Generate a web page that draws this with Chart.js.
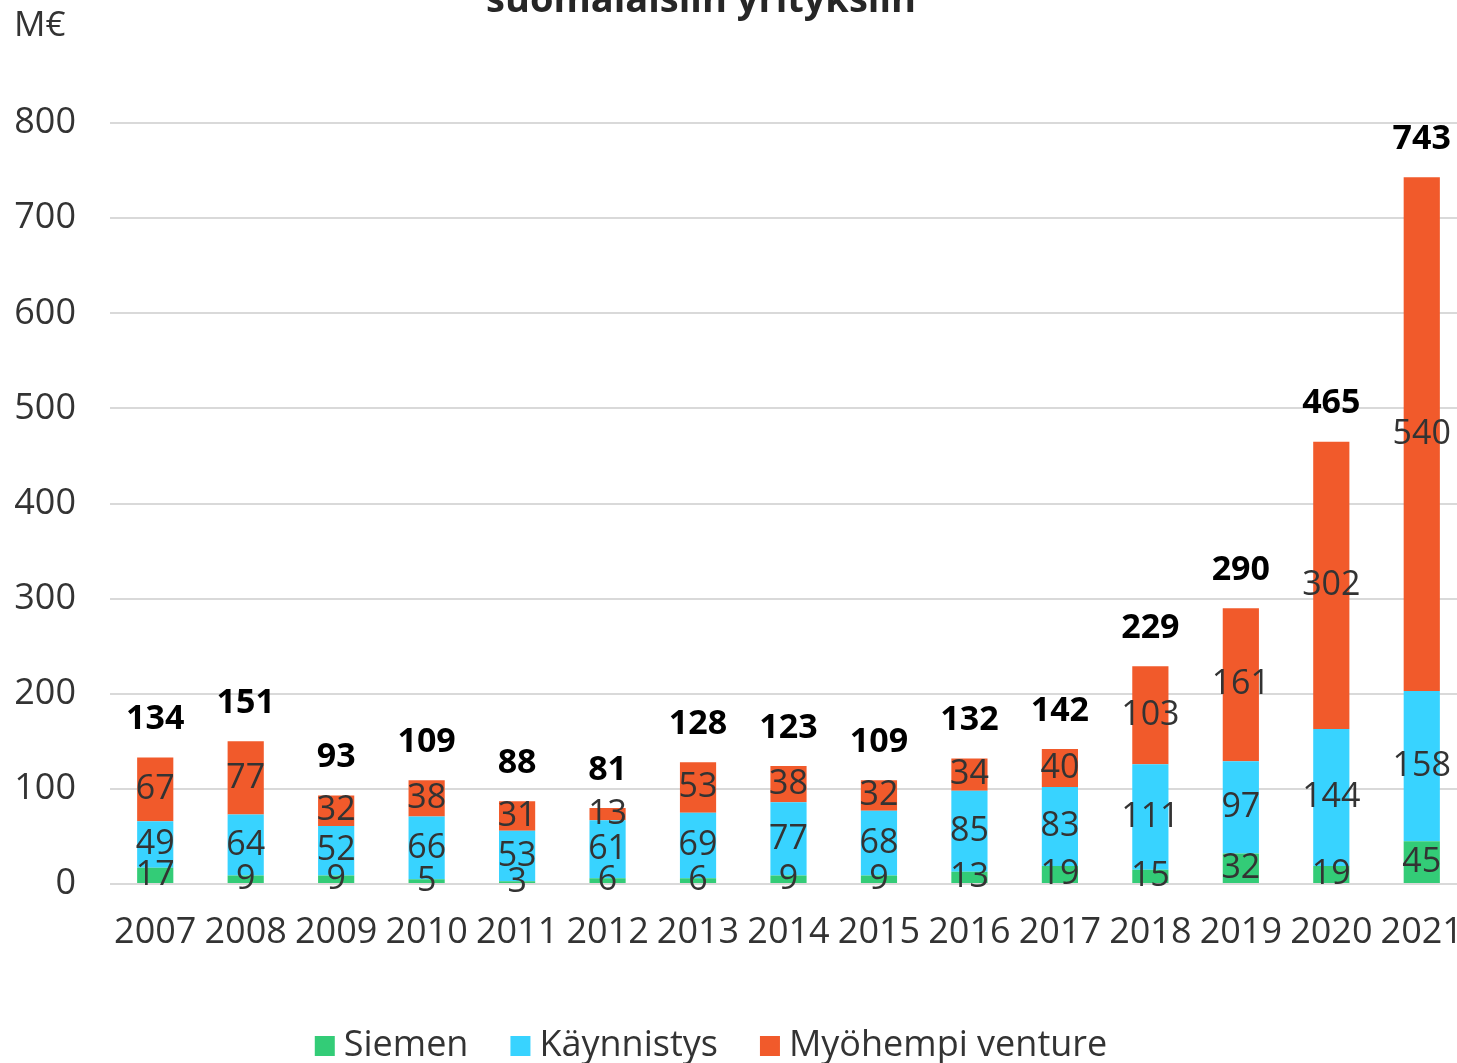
<!DOCTYPE html>
<html><head><meta charset="utf-8">
<script src="https://cdn.jsdelivr.net/npm/chart.js@4.4.0/dist/chart.umd.min.js"></script>
<style>html,body{margin:0;padding:0;background:#fff;overflow:hidden}#wrap{width:1457px;height:1063px;position:relative;overflow:hidden}</style>
</head><body><div id="wrap"><canvas id="c" width="1467" height="1063"></canvas></div>
<script>
const years = ['2007','2008','2009','2010','2011','2012','2013','2014','2015','2016','2017','2018','2019','2020','2021'];
const siemen = [17,9,9,5,3,6,6,9,9,13,19,15,32,19,45];
const kaynnistys = [49,64,52,66,53,61,69,77,68,85,83,111,97,144,158];
const myohempi = [67,77,32,38,31,13,53,38,32,34,40,103,161,302,540];
const totals = [134,151,93,109,88,81,128,123,109,132,142,229,290,465,743];
const seriesNames = ['Siemen','Käynnistys','Myöhempi venture'];
const seriesColors = ['#33CC77','#38D3FF','#F15A2B'];
const titleText = 'suomalaisiin yrityksiin';
const unitText = 'M€';

const FONT = '"Open Sans", sans-serif';

const labelPlugin = {
  id: 'customLabels',
  afterDatasetsDraw(chart) {
    const ctx = chart.ctx;
    ctx.save();
    ctx.textAlign = 'center';
    ctx.textBaseline = 'middle';
    ctx.font = '34px ' + FONT;
    ctx.fillStyle = '#333333';
    chart.data.datasets.forEach((ds, i) => {
      const meta = chart.getDatasetMeta(i);
      meta.data.forEach((bar, j) => {
        ctx.fillText(String(ds.data[j]), bar.x, (bar.y + bar.base) / 2);
      });
    });
    const topMeta = chart.getDatasetMeta(chart.data.datasets.length - 1);
    ctx.font = 'bold 34px ' + FONT;
    ctx.fillStyle = '#000000';
    topMeta.data.forEach((bar, j) => {
      ctx.fillText(String(totals[j]), bar.x, bar.y - 38);
    });
    // title (cut at top)
    ctx.font = 'bold 38px ' + FONT;
    ctx.fillStyle = '#262626';
    ctx.textBaseline = 'alphabetic';
    ctx.fillText(titleText, 701, 12);
    // unit
    ctx.font = '35px ' + FONT;
    ctx.fillStyle = '#333333';
    ctx.textAlign = 'left';
    ctx.textBaseline = 'middle';
    ctx.fillText(unitText, 14, 26);
    // legend
    ctx.font = '36px ' + FONT;
    const box = 20, gapText = 9, gapItem = 42;
    const widths = chart.data.datasets.map(d => ctx.measureText(d.label).width);
    let total = 0;
    widths.forEach((w, i) => { total += box + gapText + w + (i < widths.length - 1 ? gapItem : 0); });
    let x = 711 - total / 2;
    const cy = 1046;
    chart.data.datasets.forEach((d, i) => {
      ctx.fillStyle = d.backgroundColor;
      ctx.fillRect(x, cy - box / 2, box, box);
      ctx.fillStyle = '#333333';
      ctx.fillText(d.label, x + box + gapText, cy);
      x += box + gapText + widths[i] + gapItem;
    });
    ctx.restore();
  }
};

const datasets = [siemen, kaynnistys, myohempi].map((d, i) => ({
  label: seriesNames[i],
  data: d,
  backgroundColor: seriesColors[i],
  borderWidth: 0,
  barPercentage: 0.4,
  categoryPercentage: 1.0
}));

new Chart(document.getElementById('c'), {
  type: 'bar',
  data: { labels: years, datasets },
  plugins: [labelPlugin],
  options: {
    responsive: false,
    animation: false,
    devicePixelRatio: 1,
    layout: { padding: { top: 123, right: 0, bottom: 0, left: 0 } },
    plugins: { legend: { display: false }, tooltip: { enabled: false }, title: { display: false } },
    scales: {
      x: {
        stacked: true,
        grid: { display: false, drawTicks: false },
        border: { display: false },
        ticks: { color: '#333333', font: { family: FONT, size: 36 }, padding: 27, maxRotation: 0, autoSkip: false },
        afterFit(s) { s.height = 179; s.paddingLeft = 0; s.paddingRight = 0; }
      },
      y: {
        stacked: true,
        min: 0, max: 800,
        grid: { color: '#d9d9d9', lineWidth: 2, drawTicks: false },
        border: { display: false },
        ticks: { stepSize: 100, color: '#333333', font: { family: FONT, size: 36 }, padding: 34 },
        afterFit(s) { s.width = 110; s.paddingTop = 0; s.paddingBottom = 0; }
      }
    }
  }
});
</script>
</body></html>
